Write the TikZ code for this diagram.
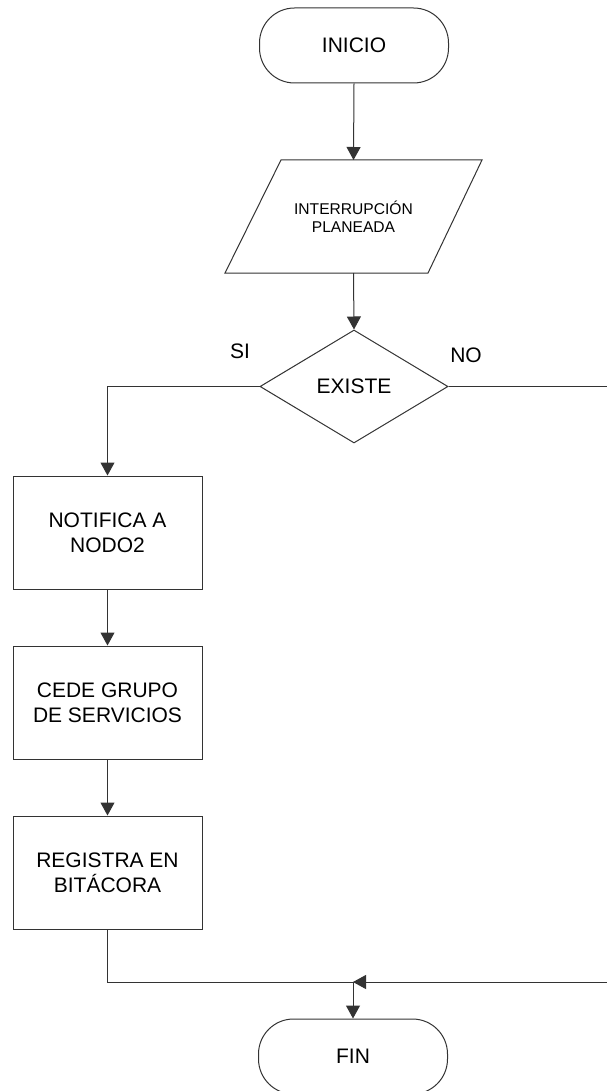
\documentclass[tikz,border=0pt]{standalone}
\usepackage{fontspec}
\setmainfont{Liberation Sans}
\usetikzlibrary{shapes.geometric,arrows.meta,calc}
\begin{document}
\begin{tikzpicture}[x=1pt,y=-1pt,
  line/.style={draw=black!80,line width=1pt},
  arr/.style={line,-{Triangle[length=13pt,width=14pt]}},
  term/.style={draw=black!80,line width=1pt,rounded corners=35pt,minimum width=189pt,minimum height=75pt,inner sep=0pt,font=\fontsize{21}{25}\selectfont},
  procbox/.style={draw=black!80,line width=1pt,minimum width=189pt,minimum height=113pt,inner sep=0pt,align=center,font=\fontsize{21}{25}\selectfont},
  decis/.style={draw=black!80,line width=1pt,shape=diamond,aspect=1.66,minimum width=188pt,minimum height=113pt,inner sep=0pt,font=\fontsize{21}{25}\selectfont},
  lbl/.style={font=\fontsize{21}{25}\selectfont,inner sep=0pt}
]
\useasboundingbox (0,0) rectangle (607,1091);
\clip (0,0) rectangle (607,1091);
\fill[white] (0,0) rectangle (607,1091);

\node[term] (inicio) at (354,45.5) {INICIO};
\node[minimum width=257pt,minimum height=113pt,inner sep=0pt,align=center,font=\fontsize{15.6}{18}\selectfont] (para) at (353.5,216.5) {INTERRUPCIÓN\\PLANEADA};
\draw[line] ($(para.center)+(-72.5,-56.5)$) -- ($(para.center)+(128.5,-56.5)$) -- ($(para.center)+(74.5,56.5)$) -- ($(para.center)+(-128.5,56.5)$) -- cycle;
\coordinate (paratop) at ($(para.center)+(0,-56.5)$);
\coordinate (parabot) at ($(para.center)+(0,56.5)$);
\node[decis] (existe) at (354,386.5) {EXISTE};
\node[lbl] (si) at (240,351) {SI};
\node[lbl] (no) at (466,355) {NO};
\node[procbox] (notif) at (107.5,532.5) {NOTIFICA A\\NODO2};
\node[procbox] (cede) at (107.5,702.5) {CEDE GRUPO\\DE SERVICIOS};
\node[procbox] (regis) at (107.5,872.5) {REGISTRA EN\\BITÁCORA};
\node[term] (fin) at (353,1056.5) {FIN};
\coordinate (junc) at (353,982);
\coordinate (rightc) at (620,386.5);

\draw[arr] (inicio.south) -- (paratop);
\draw[arr] (parabot) -- (existe.north);
\draw[arr] (existe.west) -| (notif.north);
\draw[arr] (notif.south) -- (cede.north);
\draw[arr] (cede.south) -- (regis.north);
\draw[line] (regis.south) |- (junc);
\draw[arr] (existe.east) -- (rightc) |- (junc);
\draw[arr] (junc) -- (fin.north);
\end{tikzpicture}
\end{document}
